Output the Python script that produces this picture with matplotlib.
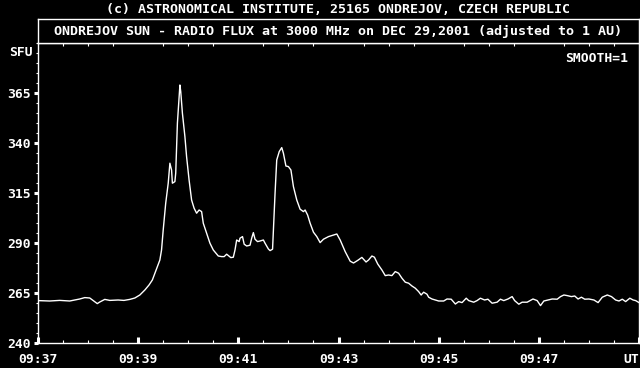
import matplotlib
matplotlib.use("Agg")
import matplotlib.pyplot as plt
from matplotlib.ticker import MultipleLocator, FixedLocator

# ---- data (seconds after 09:37:00 UT, flux in SFU) ----
time_s = [0, 14, 26, 38, 50, 56, 62, 71, 74, 80, 86, 96, 103, 110, 116, 122,
          128, 133, 137, 146, 148, 150, 153, 156, 158, 160, 161, 164, 165, 167,
          170, 171, 173, 176, 178, 181, 184, 187, 190, 193, 196, 198, 202, 206,
          210, 216, 220, 223, 226, 228, 231, 234, 236, 238, 241, 242, 245, 247,
          250, 254, 256, 258, 260, 263, 266, 270, 272, 276, 278, 281, 282, 284,
          286, 289, 292, 294, 297, 300, 303, 306, 310, 314, 318, 320, 323, 326,
          330, 334, 338, 342, 348, 354, 358, 362, 368, 374, 378, 383, 388, 393,
          396, 400, 403, 407, 412, 416, 420, 424, 428, 432, 436, 440, 444, 448,
          452, 456, 459, 462, 466, 468, 472, 476, 480, 486, 490, 495, 500, 504,
          508, 513, 516, 522, 526, 530, 535, 539, 544, 550, 554, 558, 563, 568,
          571, 576, 580, 586, 593, 598, 602, 606, 611, 616, 622, 626, 630, 634,
          639, 643, 647, 651, 655, 660, 666, 671, 676, 682, 687, 692, 696, 700,
          704, 709, 713, 716, 720]
flux_sfu = [261.2, 261.0, 261.3, 261.0, 262.0, 262.7, 262.5, 259.7, 260.5, 261.8,
            261.3, 261.5, 261.3, 261.8, 262.5, 264.0, 266.5, 269.0, 271.5, 281.5,
            286.5, 296.5, 309.9, 319.9, 329.9, 326.5, 319.9, 320.7, 325.0, 349.9,
            369.0, 365.7, 354.9, 343.2, 333.2, 321.5, 311.5, 307.4, 304.9, 306.5,
            305.7, 299.9, 294.9, 289.9, 286.5, 283.5, 283.2, 283.2, 284.4, 283.7,
            282.7, 282.9, 286.5, 291.5, 290.7, 292.4, 293.2, 289.4, 288.5, 288.9,
            292.4, 295.2, 291.9, 290.7, 291.0, 291.5, 289.9, 287.0, 286.2, 286.9,
            296.5, 314.9, 331.5, 335.7, 337.7, 334.9, 328.5, 328.2, 326.5, 318.2,
            311.5, 306.9, 305.7, 306.5, 304.0, 299.9, 295.4, 293.2, 290.2, 291.9,
            293.2, 294.0, 294.5, 291.5, 285.7, 280.9, 280.0, 281.3, 282.8, 280.5,
            281.5, 283.5, 282.9, 279.5, 276.5, 273.7, 274.0, 273.7, 275.7, 274.9,
            272.4, 270.4, 269.9, 268.5, 267.4, 265.7, 264.0, 265.4, 264.4, 262.9,
            262.0, 261.5, 261.0, 261.0, 262.0, 261.9, 259.5, 260.7, 260.2, 262.4,
            261.2, 260.4, 261.2, 262.4, 261.5, 261.9, 259.9, 260.4, 261.9, 261.2,
            262.0, 263.2, 261.2, 259.4, 260.4, 260.4, 262.0, 261.2, 258.7, 261.0,
            261.5, 262.0, 261.9, 263.2, 264.0, 263.7, 263.2, 263.5, 262.0, 262.9,
            261.9, 262.0, 261.5, 260.2, 262.9, 264.0, 263.2, 261.5, 261.0, 261.9,
            260.7, 262.4, 261.5, 261.2, 260.2]

x_tick_pos = [0, 120, 240, 360, 480, 600, 720]
x_tick_labels = ["09:37", "09:39", "09:41", "09:43", "09:45", "09:47", "UT"]
y_tick_pos = [240, 265, 290, 315, 340, 365]

header_text = "(c) ASTRONOMICAL INSTITUTE, 25165 ONDREJOV, CZECH REPUBLIC"
title_text = "ONDREJOV SUN - RADIO FLUX at 3000 MHz on DEC 29,2001 (adjusted to 1 AU)"
ylabel_text = "SFU"
smooth_text = "SMOOTH=1"

W, H = 640, 368
FONT = ["DejaVu Sans Mono"]
FS = 9.4

fig = plt.figure(figsize=(6.4, 3.68), dpi=100, facecolor="black")

L, R, B, T = 38, 639, 343, 43
ax = fig.add_axes([L / W, (H - B) / H, (R - L) / W, (B - T) / H])
ax.set_facecolor("black")
ax.plot(time_s, flux_sfu, color="white", lw=1.0)
ax.set_xlim(0, 720)
ax.set_ylim(240, 390)

for s in ax.spines.values():
    s.set_color("white")
    s.set_linewidth(1.0)

ax.xaxis.set_major_locator(FixedLocator(x_tick_pos))
ax.set_xticklabels(x_tick_labels, family=FONT, fontsize=FS, weight="bold", color="white")
ax.xaxis.set_minor_locator(MultipleLocator(30))
ax.tick_params(axis="x", which="major", direction="in", length=4, width=2.2,
               color="white", pad=7, top=False)
ax.tick_params(axis="x", which="minor", direction="in", length=2.5, width=0.8,
               color="white", top=True)
ax.xaxis.get_ticklabels()[-1].set_horizontalalignment("right")

ax.yaxis.set_major_locator(FixedLocator(y_tick_pos))
ax.set_yticklabels([str(v) for v in y_tick_pos], family=FONT, fontsize=FS,
                   weight="bold", color="white")
ax.yaxis.set_minor_locator(MultipleLocator(5))
ax.tick_params(axis="y", which="major", direction="out", length=3, width=2.2,
               color="white", pad=2)
ax.tick_params(axis="y", which="minor", direction="out", length=1.5, width=0.8,
               color="white")

ax.text((628 - L) / (R - L), (B - 59) / (B - T), smooth_text, transform=ax.transAxes,
        ha="right", va="center", family=FONT, fontsize=FS, weight="bold", color="white")

# title box
tb_top = 19
tax = fig.add_axes([L / W, (H - T) / H, (R - L) / W, (T - tb_top) / H])
tax.set_facecolor("black")
tax.set_xticks([])
tax.set_yticks([])
for s in tax.spines.values():
    s.set_color("white")
    s.set_linewidth(1.0)
tax.text(0.5, 0.5, title_text, transform=tax.transAxes, ha="center", va="center",
         family=FONT, fontsize=9.6, weight="bold", color="white")

fig.text((L + R) / 2 / W, 1 - 9.5 / H, header_text, ha="center", va="center",
         family=FONT, fontsize=9.5, weight="bold", color="white")
fig.text(33 / W, 1 - 52 / H, ylabel_text, ha="right", va="center",
         family=FONT, fontsize=FS, weight="bold", color="white")

fig.savefig("out.png", dpi=100, facecolor="black")
